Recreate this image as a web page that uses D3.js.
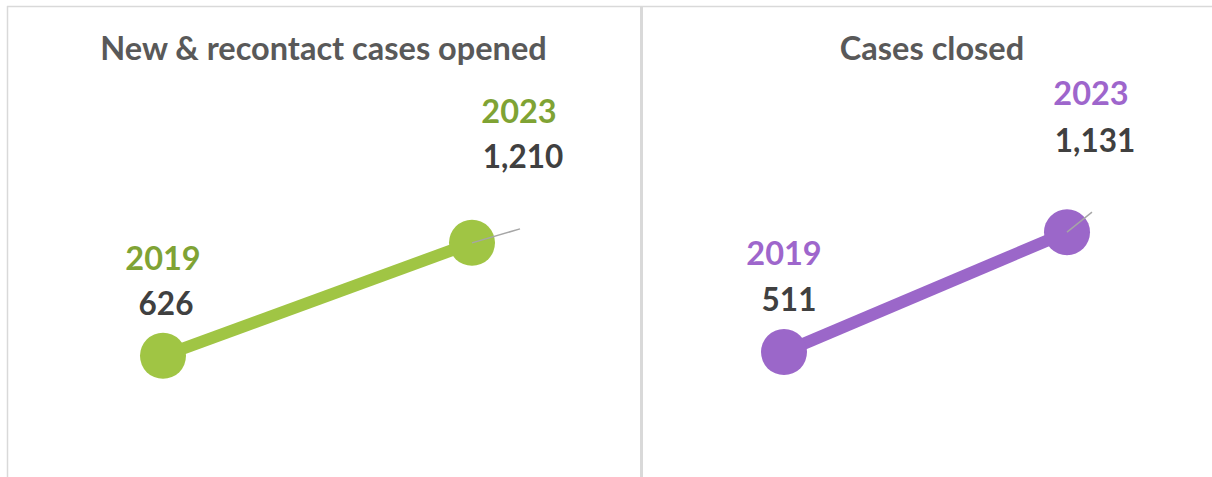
<!DOCTYPE html>
<html>
<head>
<meta charset="utf-8">
<script src="https://cdn.jsdelivr.net/npm/d3@7"></script>
<style>
  html, body { margin: 0; padding: 0; background: #ffffff; }
  svg { display: block; }
  text { font-family: Lato, "Open Sans", sans-serif; font-weight: bold; }
</style>
</head>
<body>
<svg id="chart" width="1212" height="477"></svg>
<script>
// ---- Data ----
const titles = ["New & recontact cases opened", "Cases closed"];
const years = ["2019", "2023"];
const openedValues = [626, 1210];
const closedValues = [511, 1131];
const valueLabels = [["626", "1,210"], ["511", "1,131"]];

// ---- Styles ----
const lineColors = ["#a0c544", "#9b67c9"];
const yearColors = ["#7fa334", "#9e66cc"];
const numberColor = "#404040";
const titleColor = "#595959";
const borderColor = "#d9d9d9";

const svg = d3.select("#chart");

// panel frame
svg.append("line").attr("x1", 7).attr("x2", 1212).attr("y1", 6.5).attr("y2", 6.5)
  .attr("stroke", borderColor).attr("stroke-width", 1.5);
svg.append("line").attr("x1", 7.5).attr("x2", 7.5).attr("y1", 6).attr("y2", 477)
  .attr("stroke", borderColor).attr("stroke-width", 1.5);
svg.append("line").attr("x1", 641.5).attr("x2", 641.5).attr("y1", 6).attr("y2", 477)
  .attr("stroke", borderColor).attr("stroke-width", 3);

const panels = [
  { title: titles[0], values: openedValues, labels: valueLabels[0],
    titleX: 323.5, xRange: [163, 472], yBottom: 477,
    lblOffsets: [[0, -86, 3, -41], [47, -120, 51, -75]] },
  { title: titles[1], values: closedValues, labels: valueLabels[1],
    titleX: 932, xRange: [784, 1067], yBottom: 451,
    lblOffsets: [[0, -87, 5, -41], [24, -127, 28, -80]] }
];

const yMax = 1400;
const pxPerUnit = 0.1935;

panels.forEach((p, i) => {
  const g = svg.append("g");
  const x = d3.scalePoint().domain(years).range(p.xRange);
  const y = d3.scaleLinear().domain([0, yMax]).range([p.yBottom, p.yBottom - yMax * pxPerUnit]);
  const pts = years.map((yr, k) => ({ year: yr, value: p.values[k], label: p.labels[k], off: p.lblOffsets[k] }));

  g.append("text")
    .attr("x", p.titleX).attr("y", 60)
    .attr("text-anchor", "middle")
    .attr("fill", titleColor)
    .style("font-size", "32.5px")
    .text(p.title);

  g.append("path")
    .datum(pts)
    .attr("fill", "none")
    .attr("stroke", lineColors[i])
    .attr("stroke-width", 12)
    .attr("d", d3.line().x(d => x(d.year)).y(d => y(d.value)));

  g.selectAll("circle").data(pts).join("circle")
    .attr("cx", d => x(d.year)).attr("cy", d => y(d.value))
    .attr("r", 23)
    .attr("fill", lineColors[i]);

  // leader line for last point
  const last = pts[pts.length - 1];
  const lx = x(last.year), ly = y(last.value);
  const endPt = i === 0 ? [lx + 48, ly - 14] : [lx + 25, ly - 20];
  g.append("line")
    .attr("x1", lx).attr("y1", ly).attr("x2", endPt[0]).attr("y2", endPt[1])
    .attr("stroke", "#a6a6a6").attr("stroke-width", 1.5);

  g.selectAll("text.yr").data(pts).join("text")
    .attr("class", "yr")
    .attr("x", d => x(d.year) + d.off[0])
    .attr("y", d => y(d.value) + d.off[1])
    .attr("text-anchor", "middle")
    .attr("fill", yearColors[i])
    .style("font-size", "32.5px")
    .text(d => d.year);

  g.selectAll("text.val").data(pts).join("text")
    .attr("class", "val")
    .attr("x", d => x(d.year) + d.off[2])
    .attr("y", d => y(d.value) + d.off[3])
    .attr("text-anchor", "middle")
    .attr("fill", numberColor)
    .style("font-size", "31.5px")
    .text(d => d.label);
});
</script>
</body>
</html>
